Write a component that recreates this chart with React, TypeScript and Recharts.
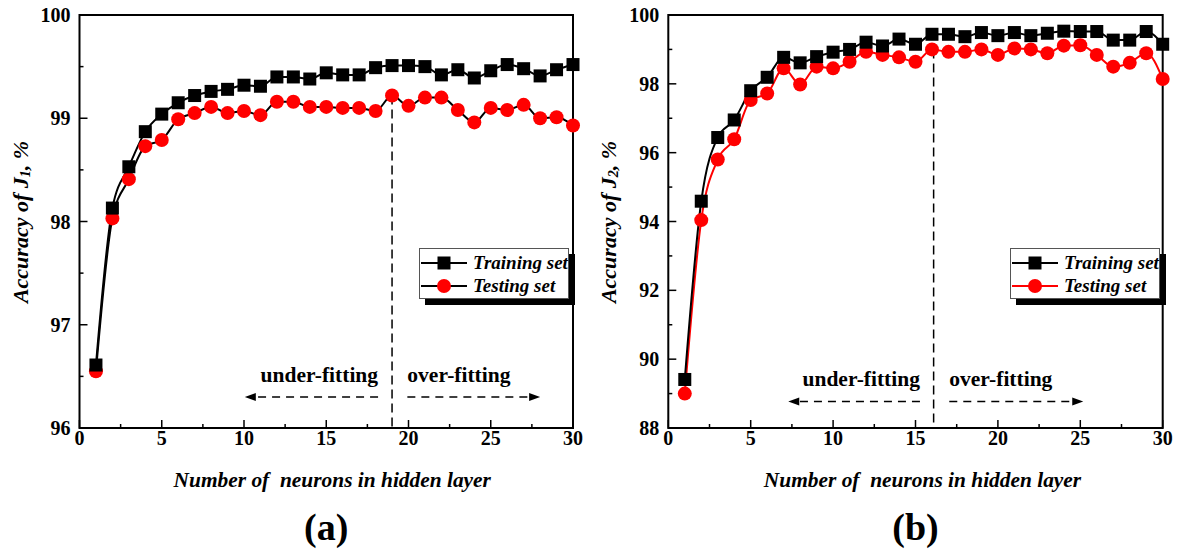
import React from 'react';
import { LineChart, Line, XAxis, YAxis, ReferenceLine, ReferenceArea, Legend } from 'recharts';

// number of neurons in the hidden layer
const neurons = [1, 2, 3, 4, 5, 6, 7, 8, 9, 10, 11, 12, 13, 14, 15, 16, 17, 18, 19, 20, 21, 22, 23, 24, 25, 26, 27, 28, 29, 30];

// panel (a): accuracy of J1, %
const trainA = [96.61, 98.13, 98.53, 98.87, 99.04, 99.15, 99.22, 99.26, 99.28, 99.32, 99.31, 99.4, 99.4, 99.38, 99.44, 99.42, 99.42, 99.49, 99.51, 99.51, 99.5, 99.42, 99.47, 99.39, 99.46, 99.52, 99.48, 99.41, 99.47, 99.52];
const testA = [96.55, 98.03, 98.41, 98.73, 98.79, 98.99, 99.05, 99.11, 99.05, 99.07, 99.03, 99.16, 99.16, 99.11, 99.11, 99.1, 99.1, 99.07, 99.22, 99.12, 99.2, 99.2, 99.08, 98.96, 99.1, 99.08, 99.13, 99.0, 99.01, 98.93];

// panel (b): accuracy of J2, %
const trainB = [89.41, 94.59, 96.44, 96.95, 97.8, 98.19, 98.77, 98.61, 98.79, 98.92, 99.0, 99.21, 99.1, 99.3, 99.15, 99.44, 99.44, 99.37, 99.49, 99.4, 99.49, 99.4, 99.47, 99.53, 99.52, 99.52, 99.27, 99.27, 99.52, 99.15];
const testB = [89.0, 94.04, 95.8, 96.39, 97.53, 97.72, 98.45, 97.98, 98.5, 98.45, 98.64, 98.93, 98.84, 98.77, 98.64, 99.0, 98.93, 98.93, 99.0, 98.84, 99.03, 99.0, 98.89, 99.11, 99.12, 98.84, 98.5, 98.61, 98.89, 98.14];

const xTicks = [0, 2.5, 5, 7.5, 10, 12.5, 15, 17.5, 20, 22.5, 25, 27.5, 30];
const yTicksA = [96, 96.5, 97, 97.5, 98, 98.5, 99, 99.5, 100];
const yTicksB = [88, 89, 90, 91, 92, 93, 94, 95, 96, 97, 98, 99, 100];

// annotations: split line and the under/over-fitting arrows
const splitA = { x: 19, top: 99.22 };
const splitB = { x: 16.1, top: 99.0 };
const arrowsA = { y: 96.3, under: [18.15, 10.05], over: [19.93, 28.0] };
const arrowsB = { y: 88.77, under: [15.27, 7.28], over: [17.05, 25.18] };

const FONT = '"Liberation Serif", "Times New Roman", serif';
const RED = '#ff0000';

const XTick = (props: any) => {
  const { x, y, payload } = props;
  const major = payload.value % 5 === 0;
  return (
    <g>
      <line x1={x} x2={x} y1={y} y2={y - (major ? 8 : 4)} stroke="#000" strokeWidth={1.5} />
      {major && (
        <text x={x} y={y + 17} textAnchor="middle" fontFamily={FONT} fontWeight="bold" fontSize={20} fill="#000">
          {payload.value}
        </text>
      )}
    </g>
  );
};

const makeYTick = (step: number) => (props: any) => {
  const { x, y, payload } = props;
  const major = Math.abs(payload.value / step - Math.round(payload.value / step)) < 1e-6;
  return (
    <g>
      <line x1={x} x2={x + (major ? 8 : 4)} y1={y} y2={y} stroke="#000" strokeWidth={1.5} />
      {major && (
        <text x={x - 9} y={y} dy="0.35em" textAnchor="end" fontFamily={FONT} fontWeight="bold" fontSize={20} fill="#000">
          {payload.value}
        </text>
      )}
    </g>
  );
};

const squareDot = (p: any) => (
  <rect key={`s${p.index}`} x={p.cx - 6.5} y={p.cy - 6.5} width={13} height={13} fill="#000" />
);
const circleDot = (p: any) => <circle key={`c${p.index}`} cx={p.cx} cy={p.cy} r={7} fill={RED} />;

const arrowShape = (text: string, anchor: 'start' | 'end') => (p: any) => {
  const { x1, y1, x2, y2 } = p;
  const dir = Math.sign(x2 - x1);
  return (
    <g>
      <line x1={x1} y1={y1} x2={x2 - dir * 6} y2={y2} stroke="#000" strokeWidth={1.5} strokeDasharray="8 6" />
      <polygon points={`${x2},${y2} ${x2 - dir * 11},${y2 - 4} ${x2 - dir * 11},${y2 + 4}`} fill="#000" />
      <text x={x1} y={y1 - 15} textAnchor={anchor} fontFamily={FONT} fontWeight="bold" fontSize={21.5} fill="#000">
        {text}
      </text>
    </g>
  );
};

const LegendBox = ({ payload }: any) => {
  const items = [...(payload || [])].reverse();
  return (
    <div
      style={{
        width: 150,
        height: 51,
        boxSizing: 'border-box',
        border: '1px solid #555',
        background: '#fff',
        boxShadow: '6px 6px 0 #000',
        fontFamily: FONT,
        fontStyle: 'italic',
        fontWeight: 'bold',
        fontSize: 19,
        paddingTop: 2,
      }}
    >
      {items.map((it: any) => (
        <div key={it.value} style={{ display: 'flex', alignItems: 'center', height: 23 }}>
          <svg width={50} height={20} style={{ marginLeft: 1 }}>
            <line x1={0} x2={46} y1={10} y2={10} stroke={it.color} strokeWidth={2} />
            {it.dataKey === 'train' ? (
              <rect x={16.5} y={3.5} width={13} height={13} fill="#000" />
            ) : (
              <circle cx={23} cy={10} r={7} fill={RED} />
            )}
          </svg>
          <span style={{ marginLeft: 2, color: '#000' }}>{it.value}</span>
        </div>
      ))}
    </div>
  );
};

interface PanelProps {
  left: number;
  width: number;
  plotLeft: number;
  plotRight: number;
  train: number[];
  test: number[];
  testColor: string;
  yDomain: [number, number];
  yTicks: number[];
  yStep: number;
  sub: string;
  labelX: number;
  titleShift: number;
  split: { x: number; top: number };
  arrows: { y: number; under: number[]; over: number[] };
  legendLeft: number;
  tag: string;
}

const Panel = (p: PanelProps) => {
  const data = neurons.map((n, i) => ({ n, train: p.train[i], test: p.test[i] }));
  const [yMin, yMax] = p.yDomain;
  return (
    <div style={{ position: 'absolute', left: p.left, top: 0 }}>
      <LineChart
        width={p.width}
        height={553}
        data={data}
        margin={{ top: 15, right: p.width - p.plotRight, left: p.plotLeft - 60, bottom: 95 }}
      >
        <XAxis
          dataKey="n"
          type="number"
          domain={[0, 30]}
          ticks={xTicks}
          interval={0}
          tick={<XTick />}
          tickLine={false}
          axisLine={false}
          tickSize={0}
          tickMargin={0}
          height={30}
          label={(lp: any) => {
            const vb = lp.viewBox || {};
            const cx = vb.x + vb.width / 2;
            return (
              <g>
                <text x={cx + p.titleShift} y={487} textAnchor="middle" fontFamily={FONT} fontWeight="bold" fontStyle="italic" fontSize={21.4} fill="#000" xmlSpace="preserve">
                  Number of  neurons in hidden layer
                </text>
                <text x={cx} y={540} textAnchor="middle" fontFamily={FONT} fontWeight="bold" fontSize={38} fill="#000">
                  {p.tag}
                </text>
              </g>
            );
          }}
        />
        <YAxis
          type="number"
          domain={p.yDomain}
          ticks={p.yTicks}
          interval={0}
          allowDataOverflow
          tick={makeYTick(p.yStep)}
          tickLine={false}
          axisLine={false}
          tickSize={0}
          tickMargin={0}
          width={60}
          label={() => (
            <text
              x={p.labelX}
              y={222}
              transform={`rotate(-90, ${p.labelX}, 222)`}
              textAnchor="middle"
              dominantBaseline="central"
              fontFamily={FONT}
              fontWeight="bold"
              fontStyle="italic"
              fontSize={22}
              fill="#000"
            >
              <tspan>Accuracy of J</tspan>
              <tspan fontSize={14} dy={5}>{p.sub}</tspan>
              <tspan dy={-5}>, %</tspan>
            </text>
          )}
        />
        <ReferenceArea x1={0} x2={30} y1={yMin} y2={yMax} fill="none" fillOpacity={0} stroke="#000" strokeWidth={2} />
        <ReferenceLine
          segment={[{ x: p.split.x, y: p.split.top }, { x: p.split.x, y: yMin }]}
          stroke="#000"
          strokeWidth={1.5}
          strokeDasharray="9 5"
        />
        <ReferenceLine
          segment={[{ x: p.arrows.under[0], y: p.arrows.y }, { x: p.arrows.under[1], y: p.arrows.y }]}
          shape={arrowShape('under-fitting', 'end')}
        />
        <ReferenceLine
          segment={[{ x: p.arrows.over[0], y: p.arrows.y }, { x: p.arrows.over[1], y: p.arrows.y }]}
          shape={arrowShape('over-fitting', 'start')}
        />
        <Line
          type="monotone"
          dataKey="test"
          name="Testing set"
          stroke={p.testColor}
          strokeWidth={2}
          dot={circleDot}
          activeDot={false}
          isAnimationActive={false}
        />
        <Line
          type="monotone"
          dataKey="train"
          name="Training set"
          stroke="#000"
          strokeWidth={2}
          dot={squareDot}
          activeDot={false}
          isAnimationActive={false}
        />
        <Legend
          layout="vertical"
          align="center"
          verticalAlign="middle"
          wrapperStyle={{ left: p.legendLeft, top: 248, width: 150 }}
          content={<LegendBox />}
        />
      </LineChart>
    </div>
  );
};

export default function App() {
  return (
    <div style={{ position: 'absolute', left: 0, top: 0, width: 1179, height: 553, background: '#fff', overflow: 'hidden' }}>
      <Panel
        left={0}
        width={590}
        plotLeft={79.5}
        plotRight={573}
        train={trainA}
        test={testA}
        testColor="#000"
        yDomain={[96, 100]}
        yTicks={yTicksA}
        yStep={1}
        sub="1"
        labelX={20}
        titleShift={6}
        split={splitA}
        arrows={arrowsA}
        legendLeft={419}
        tag="(a)"
      />
      <Panel
        left={590}
        width={589}
        plotLeft={78.3}
        plotRight={572.7}
        train={trainB}
        test={testB}
        testColor={RED}
        yDomain={[88, 100]}
        yTicks={yTicksB}
        yStep={2}
        sub="2"
        labelX={18}
        titleShift={7}
        split={splitB}
        arrows={arrowsB}
        legendLeft={420}
        tag="(b)"
      />
    </div>
  );
}
